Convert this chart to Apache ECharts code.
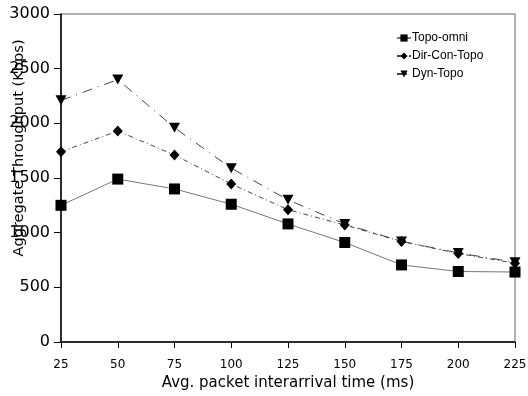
<!DOCTYPE html>
<html><head><meta charset="utf-8">
<script src="https://cdn.jsdelivr.net/npm/echarts@6/dist/echarts.min.js"></script>
<style>html,body{margin:0;padding:0;background:#fff}#c{width:528px;height:396px}</style>
</head><body><div id="c"></div>
<script>
const xValues = [25, 50, 75, 100, 125, 150, 175, 200, 225];
const topoOmni = [1250, 1490, 1400, 1260, 1080, 910, 705, 645, 640];
const dirConTopo = [1740, 1930, 1710, 1445, 1210, 1070, 920, 810, 720];
const dynTopo = [2210, 2400, 1960, 1590, 1300, 1080, 920, 815, 730];
const seriesNames = ['Topo-omni', 'Dir-Con-Topo', 'Dyn-Topo'];

const font = '"DejaVu Sans", sans-serif';
const chart = echarts.init(document.getElementById('c'));
function pairs(arr){ return xValues.map((x,i)=>[x, arr[i]]); }
chart.setOption({
  animation:false,
  backgroundColor:'#fff',
  grid:{left:61,right:13,top:14,bottom:54,outerBoundsMode:'none',containLabel:false,show:true,borderColor:'#666',borderWidth:1,backgroundColor:'transparent'},
  legend:{
    left:391, top:27, orient:'vertical', itemGap:6, itemWidth:14, itemHeight:9,
    textStyle:{fontFamily:'"Liberation Sans", Arial, sans-serif',fontSize:12,color:'#000', padding:[0,0,0,-4]},
    data:seriesNames
  },
  xAxis:{
    type:'value', min:25, max:225, interval:25,
    name:'Avg. packet interarrival time (ms)', nameLocation:'middle', nameGap:34, nameMoveOverlap:false,
    nameTextStyle:{fontFamily:font,fontSize:15,color:'#000'},
    axisLine:{lineStyle:{color:'#000',width:1.5}},
    axisTick:{show:true,length:6,lineStyle:{color:'#000'}},
    axisLabel:{fontFamily:font,fontSize:12,color:'#000',margin:17},
    splitLine:{show:false}
  },
  yAxis:{
    type:'value', min:0, max:3000, interval:500,
    name:'Aggregate Throughput (Kbps)', nameLocation:'middle', nameGap:34, nameMoveOverlap:false,
    nameTextStyle:{fontFamily:font,fontSize:14.6,color:'#000',padding:[0,0,0,60]},
    axisLine:{show:true,lineStyle:{color:'#000',width:1.5}},
    axisTick:{show:true,length:7,lineStyle:{color:'#000'}},
    axisLabel:{fontFamily:font,fontSize:16,color:'#000',margin:11,formatter:v=>String(v)},
    splitLine:{show:false}
  },
  series:[
    {name:seriesNames[0],type:'line',data:pairs(topoOmni),symbol:'rect',symbolSize:11,
     itemStyle:{color:'#000'},lineStyle:{color:'#777',width:1,type:'solid'}},
    {name:seriesNames[1],type:'line',data:pairs(dirConTopo),symbol:'diamond',symbolSize:[10,11],
     itemStyle:{color:'#000'},lineStyle:{color:'#444',width:1,type:[5,3,1,3]}},
    {name:seriesNames[2],type:'line',data:pairs(dynTopo),symbol:'triangle',symbolRotate:180,symbolSize:[11,10],
     itemStyle:{color:'#000'},lineStyle:{color:'#444',width:1,type:[10,6,1,6]}}
  ]
});
</script></body></html>
